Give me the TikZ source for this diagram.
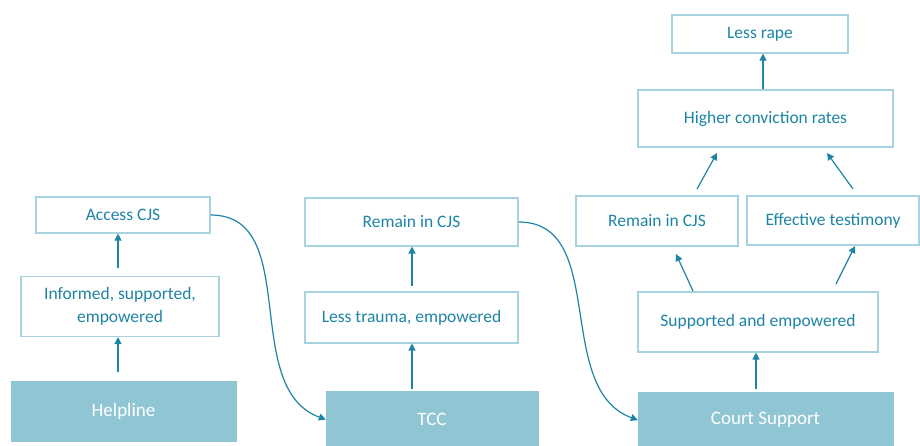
\documentclass[tikz,border=0pt]{standalone}
\usepackage{fontspec}
\setmainfont{Carlito}
\usetikzlibrary{arrows.meta}
\definecolor{ink}{HTML}{1E84A6}
\definecolor{edge}{HTML}{A6D3DF}
\definecolor{fillbox}{HTML}{90C6D4}
\begin{document}
\begin{tikzpicture}[x=1pt,y=-1pt,
  outcome/.style={draw=edge,line width=1.1pt,fill=white,text=ink,font=\fontsize{17.5}{23}\selectfont,align=center,inner sep=0pt},
  service/.style={draw=fillbox,fill=fillbox,text=white,font=\fontsize{19}{23}\selectfont,inner sep=0pt},
  arr/.style={draw=ink,line width=1.2pt,-{Triangle[length=7pt,width=7pt]}}]
\useasboundingbox (0,0) rectangle (920,446);
% helpline column
\node[service,minimum width=225pt,minimum height=60pt] (help) at (123.5,411) {Helpline};
\node[outcome,minimum width=198pt,minimum height=60pt] (inf) at (120,306.5) {Informed, supported,\\empowered};
\node[outcome,minimum width=174pt,minimum height=36pt] (acc) at (123,215) {Access CJS};
% TCC column
\node[service,minimum width=212pt,minimum height=57pt] (tcc) at (432,419.5) {TCC};
\node[outcome,minimum width=213pt,minimum height=51pt] (less) at (411.5,317.5) {Less trauma, empowered};
\node[outcome,minimum width=213pt,minimum height=48pt] (rem1) at (411.5,222) {Remain in CJS};
% court support column
\node[service,minimum width=255pt,minimum height=56pt] (court) at (765.5,420) {Court Support};
\node[outcome,minimum width=240pt,minimum height=60pt] (sup) at (758,322) {Supported and empowered};
\node[outcome,minimum width=162pt,minimum height=50pt] (rem2) at (657,221) {Remain in CJS};
\node[outcome,minimum width=172pt,minimum height=49pt] (eff) at (833,220.5) {Effective testimony};
\node[outcome,minimum width=255pt,minimum height=57pt] (conv) at (765.5,118.5) {Higher conviction rates};
\node[outcome,minimum width=176pt,minimum height=38pt] (rape) at (760,34) {Less rape};
% vertical links
\draw[arr] (help.north -| 118,0) ++(0,-9) -- (inf.south -| 118,0);
\draw[arr] (inf.north -| 118,0) ++(0,-8) -- (acc.south -| 118,0);
\draw[arr] (tcc.north -| 412,0) ++(0,-2) -- (less.south -| 412,0);
\draw[arr] (less.north -| 412,0) ++(0,-5) -- (rem1.south -| 412,0);
\draw[arr] (court.north -| 756,0) ++(0,-3) -- (sup.south -| 756,0);
\draw[arr] (conv.north -| 763,0) -- (rape.south -| 763,0);
% diagonal links
\coordinate (r2s) at (693,291);
\coordinate (r2e) at (676,254);
\coordinate (efs) at (836,284);
\coordinate (efe) at (855,246);
\coordinate (c1s) at (697,189);
\coordinate (c1e) at (717,153);
\coordinate (c2s) at (853,189);
\coordinate (c2e) at (827,153);
\draw[arr] (r2s) -- (r2e);
\draw[arr] (efs) -- (efe);
\draw[arr] (c1s) -- (c1e);
\draw[arr] (c2s) -- (c2e);
% links between columns
\draw[arr] (acc.east) to[out=0,in=160] (tcc.west);
\draw[arr] (rem1.east) to[out=0,in=160] (court.west);
\end{tikzpicture}
\end{document}
